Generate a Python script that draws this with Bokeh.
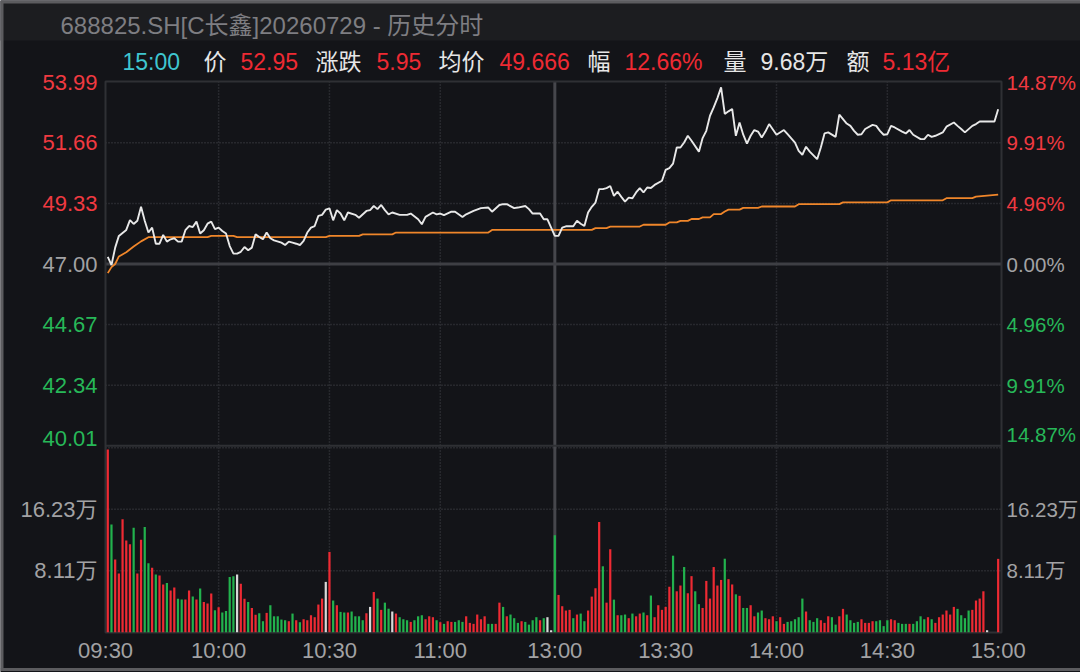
from bokeh.plotting import figure
from bokeh.models import Range1d, ColumnDataSource
from bokeh.core.properties import value
from bokeh.embed import file_html
from bokeh.resources import INLINE

# ---------------- data ----------------
TITLE = "688825.SH[C长鑫]20260729 - 历史分时"
PREV_CLOSE = 47.00
LAST_TIME = "15:00"
LAST_PRICE = 52.95
AVG_PRICE = 49.666
LAST_VOL_TXT = "9.68万"
AMOUNT_TXT = "5.13亿"

PRICE_TICKS = [53.99, 51.66, 49.33, 47.00, 44.67, 42.34, 40.01]
VOL_TICKS = [8.11, 16.23, 24.34]
TIME_TICKS = [-0.6, 30, 60, 90, 121, 151, 181, 211, 241]
TIME_LABELS = ["09:30", "10:00", "10:30", "11:00", "13:00", "13:30", "14:00", "14:30", "15:00"]

# minute slots (0 = 09:30 ... 120 = 11:30, 121 = 13:00 ... 241 = 15:00)
PRICE_SLOT = [0, 1, 2, 3, 5, 6, 7, 8, 9, 10, 11, 12, 13, 14, 15, 16, 17, 18, 19, 20,
              21, 22, 23, 24, 25, 26, 27, 28, 29, 30, 31, 32, 33, 34, 35, 36, 37, 38, 39, 40,
              41, 42, 43, 44, 45, 47, 48, 49, 50, 51, 52, 53, 54, 55, 56, 57, 58, 59, 60, 61,
              62, 63, 64, 65, 67, 68, 70, 71, 72, 73, 74, 75, 76, 77, 79, 81, 82, 84, 85, 86,
              88, 89, 90, 91, 93, 94, 96, 97, 99, 101, 103, 104, 106, 107, 108, 110, 111, 113, 114, 115,
              117, 118, 119, 120,
              121, 122, 123, 124, 126, 127, 128, 129, 130, 131, 132, 133, 134, 135, 136, 137, 138, 139, 140, 141,
              142, 143, 144, 145, 146, 147, 148, 150, 151, 152, 153, 154, 155, 156, 157, 158, 160, 161, 162, 163,
              164, 165, 166, 167, 168, 169, 170, 171, 172, 173, 174, 175, 176, 177, 178, 179, 181, 183, 184, 186,
              187, 188, 189, 190, 192, 193, 194, 195, 197, 198, 200, 201, 202, 203, 204, 205, 207, 208, 209, 210,
              211, 212, 213, 215, 216, 217, 218, 220, 221, 222, 223, 224, 226, 227, 229, 230, 231, 232, 234, 235,
              236, 238, 240, 241]
PRICE = [47.27, 46.96, 47.63, 48.08, 48.31, 48.69, 48.54, 48.66, 49.20, 48.66, 48.21, 48.40, 47.78, 47.78, 48.12, 47.86, 47.95, 47.99, 47.86, 47.86,
         48.30, 48.46, 48.42, 48.63, 48.17, 48.30, 48.55, 48.63, 48.34, 48.40, 48.27, 48.17, 47.69, 47.40, 47.40, 47.47, 47.65, 47.53, 47.63, 48.14,
         48.04, 47.95, 48.21, 47.99, 47.91, 47.82, 47.73, 47.86, 47.82, 47.78, 47.73, 47.89, 48.21, 48.40, 48.46, 48.85, 48.89, 49.09, 49.14, 48.68,
         49.07, 48.94, 48.68, 48.98, 48.89, 48.78, 49.04, 49.07, 49.23, 49.11, 49.27, 49.07, 48.91, 48.98, 48.89, 48.89, 48.94, 48.72, 48.53, 48.81,
         48.98, 48.91, 48.94, 48.88, 49.01, 49.01, 48.81, 48.91, 49.04, 49.15, 49.17, 49.01, 49.27, 49.30, 49.30, 49.15, 49.17, 49.23, 49.11, 48.94,
         48.94, 48.72, 48.72, 48.40,
         48.08, 48.08, 48.40, 48.45, 48.45, 48.66, 48.55, 48.46, 48.98, 49.20, 49.36, 49.88, 49.88, 49.92, 50.00, 49.62, 49.78, 49.58, 49.40, 49.55,
         49.53, 49.75, 49.92, 49.75, 49.94, 49.92, 50.04, 50.20, 50.62, 50.69, 50.86, 51.48, 51.48, 51.67, 51.93, 51.74, 51.32, 51.84, 52.12, 52.70,
         53.02, 53.38, 53.79, 52.77, 52.87, 52.96, 51.93, 52.44, 51.97, 51.63, 51.93, 52.15, 52.09, 51.86, 52.09, 52.38, 51.97, 52.15, 51.99, 51.67,
         51.35, 51.20, 51.51, 51.32, 51.03, 51.48, 52.02, 52.06, 51.89, 52.74, 52.40, 52.31, 52.12, 51.97, 51.99, 52.19, 52.35, 52.31, 52.12, 51.97,
         51.99, 52.31, 52.25, 52.09, 52.02, 52.15, 51.97, 51.80, 51.80, 51.97, 51.89, 51.93, 52.06, 52.28, 52.44, 52.31, 52.19, 52.06, 52.31, 52.38,
         52.48, 52.48, 52.48, 52.95]

AVG_SLOT = [0, 1, 2, 3, 5, 7, 9, 11, 27, 28, 34, 35, 59, 60, 68, 69, 77, 78, 103, 104,
            131, 132, 135, 136, 144, 145, 151, 152, 154, 155, 157, 158, 160, 161, 163, 164, 166, 167, 168, 171,
            172, 176, 177, 186, 187, 198, 199, 211, 212, 226, 227, 234, 235, 241]
AVG = [46.65, 46.88, 47.00, 47.29, 47.45, 47.67, 47.87, 48.03, 48.03, 48.08, 48.08, 48.03, 48.03, 48.08, 48.08, 48.14, 48.14, 48.21, 48.21, 48.31,
       48.31, 48.38, 48.38, 48.44, 48.44, 48.51, 48.51, 48.60, 48.60, 48.66, 48.66, 48.73, 48.73, 48.79, 48.79, 48.92, 48.92, 49.02, 49.09, 49.09,
       49.16, 49.16, 49.21, 49.21, 49.30, 49.30, 49.37, 49.37, 49.45, 49.45, 49.53, 49.53, 49.59, 49.67]

# volume per minute slot, in 万 shares
VOL = [24.1, 14.2, 9.6, 7.74, 14.9, 12.1, 11.6, 13.8, 7.74, 12.2,
       13.9, 9.1, 8.5, 7.6, 7.5, 6.3, 6.5, 5.5, 5.9, 4.4,
       4.3, 4.3, 5.5, 4.7, 4.3, 5.76, 4.0, 3.8, 5.1, 2.9,
       3.3, 2.6, 2.8, 7.3, 7.4, 7.6, 6.4, 4.4, 4.0, 3.2,
       2.3, 2.5, 1.45, 2.55, 3.56, 2.1, 2.1, 1.67, 1.58, 1.45,
       2.46, 1.58, 1.32, 1.71, 1.58, 2.24, 1.98, 3.65, 4.44, 6.64,
       10.6, 4.18, 3.56, 2.68, 2.6, 2.6, 2.73, 2.1, 2.1, 1.58,
       2.5, 3.34, 5.3, 4.44, 2.95, 3.9, 3.1, 2.73, 2.46, 1.98,
       1.71, 1.58, 1.36, 1.58, 2.1, 2.24, 1.71, 2.1, 1.98, 1.58,
       1.32, 1.1, 1.45, 1.36, 1.36, 1.58, 1.36, 2.1, 1.23, 1.1,
       2.33, 1.71, 2.1, 1.1, 1.1, 1.1, 3.9, 3.34, 2.1, 2.33,
       1.85, 1.23, 1.45, 1.36, 1.0, 1.58, 1.98, 1.58, 1.85, 1.98,
       0.26, 12.8, 4.92, 3.43, 2.86, 2.95, 1.85, 2.33, 2.46, 1.45,
       2.86, 4.7, 5.8, 14.55, 8.7, 3.9, 10.95, 4.3, 2.24, 2.24,
       2.33, 1.85, 2.46, 2.1, 2.46, 2.6, 2.24, 4.84, 1.98, 3.56,
       2.95, 3.34, 6.0, 10.1, 5.4, 6.16, 8.6, 5.14, 7.4, 5.4,
       3.7, 3.2, 6.77, 4.44, 8.6, 6.16, 6.9, 9.7, 7.0, 6.3,
       5.0, 4.8, 3.2, 3.2, 3.56, 2.1, 2.6, 2.86, 1.85, 1.71,
       2.1, 1.45, 1.98, 1.1, 1.36, 1.45, 1.71, 1.98, 4.44, 2.73,
       1.58, 1.36, 1.85, 1.58, 1.23, 2.1, 1.98, 1.0, 2.1, 3.08,
       2.33, 1.58, 1.23, 1.36, 1.71, 1.23, 1.23, 1.45, 1.45, 1.58,
       0.8, 1.58, 1.71, 1.58, 1.23, 1.1, 1.1, 1.1, 1.1, 1.45,
       2.1, 1.71, 1.98, 1.71, 1.23, 1.98, 2.33, 2.86, 2.33, 3.34,
       3.08, 2.24, 1.85, 2.86, 2.95, 4.18, 4.44, 5.4, 0.26, 0,
       0, 9.68]
# r = up, g = down, w = unchanged, n = no trade
VOL_DIR = list("rgrrrrrgrr" "ggrgrrgrrg" "grrgrgrrrg" "rggggwrrgr"
               "rggrgggggr" "grgrrrrrrw" "rgrggrgggg" "rwrgrggwrg"
               "ggrgggrrrg" "rgrrgggrrr" "rrrggrrgrg" "ggrggggrgw"
               "wgrrrrgrgg" "rrrrgrrgrg" "grgrrgrgrr" "rrrgrrgrrg"
               "grrrrrrgrr" "grggrrggrr" "rgrrgggggr" "gggrrrggrr"
               "ggggrrrrgg" "ggrrgggrgg" "ggrgrrrrrr" "ggggrrrrwn"
               "nr")

assert len(PRICE_SLOT) == len(PRICE)
assert len(AVG_SLOT) == len(AVG)
assert len(VOL) == len(VOL_DIR) == 242

# ---------------- layout / style ----------------
W, H = 1080, 672
FRAME_L, FRAME_R, FRAME_T, FRAME_B = 105, 1001, 81, 632
SLOT_L, SLOT_R = -0.62, 241.9                 # slots at the panel's left / right edge
PRICE_Y = (53.99, 81.7, 40.01, 445.3)          # value, pixel-row pairs of the price panel
VOL_Y = (24.34, 447.3, 0.0, 631.7)             # value, pixel-row pairs of the volume panel

FONT = "Liberation Sans, Noto Sans CJK SC"
BG = "#131418"
HEAD_BG = "#1c1d20"
EDGE = "#5c5c5f"
FRAME = "#2f3034"
GRID = "#3c3d42"
RED = "#ee2a33"
GREEN = "#22b24d"
WBAR = "#d8d8d8"
LBL_RED = "#f03a41"
LBL_GREEN = "#27b858"
LBL_GRAY = "#a2a2a4"
DIR_COLOR = {"r": RED, "g": GREEN, "w": WBAR}


def span_x(v0, p0, v1, p1):
    k = (v1 - v0) / (p1 - p0)
    return v0 + (0 - p0) * k, v0 + (W - p0) * k


def span_y(v0, p0, v1, p1):
    k = (v1 - v0) / (p1 - p0)
    return v0 + (H - p0) * k, v0 + (0 - p0) * k   # (bottom, top)


xs, xe = span_x(SLOT_L, FRAME_L, SLOT_R, FRAME_R)
ps, pe = span_y(*PRICE_Y)
vs, ve = span_y(*VOL_Y)

p = figure(width=W, height=H, x_range=Range1d(xs, xe), y_range=Range1d(ps, pe),
           x_axis_type=None, y_axis_type=None, toolbar_location=None,
           output_backend="svg", min_border=0, outline_line_color=None,
           background_fill_color=BG, border_fill_color=BG)
p.extra_x_ranges = {"px": Range1d(0, W)}
p.extra_y_ranges = {"vol": Range1d(vs, ve), "px": Range1d(H, 0)}

PX = dict(x_range_name="px", y_range_name="px")

# header band and window edges
p.quad(left=0, right=W, top=0, bottom=40, fill_color=HEAD_BG, line_color=None, **PX)
p.segment(x0=[1.5, 0, 0], y0=[0, 1.5, H - 3], x1=[1.5, W, W], y1=[H - 3, 1.5, H - 3],
          line_color=EDGE, line_width=3, **PX)

# grid lines
top_tick, bottom_tick = max(PRICE_TICKS), min(PRICE_TICKS)
dotted_p = [t for t in PRICE_TICKS if t not in (PREV_CLOSE, top_tick, bottom_tick)]
p.segment(x0=[SLOT_L] * len(dotted_p), x1=[SLOT_R] * len(dotted_p), y0=dotted_p, y1=dotted_p,
          line_color=GRID, line_width=1.5, line_dash="1 2")
p.segment(x0=[SLOT_L] * len(VOL_TICKS), x1=[SLOT_R] * len(VOL_TICKS), y0=VOL_TICKS, y1=VOL_TICKS,
          line_color=GRID, line_width=1.5, line_dash="1 2", y_range_name="vol")
vt = [t for t, lab in zip(TIME_TICKS[1:-1], TIME_LABELS[1:-1]) if lab != "13:00"]
p.segment(x0=vt, x1=vt, y0=[FRAME_T] * len(vt), y1=[FRAME_B] * len(vt),
          line_color=GRID, line_width=1.5, line_dash="1 2", y_range_name="px")
noon = TIME_TICKS[TIME_LABELS.index("13:00")]
p.segment(x0=[noon], x1=[noon], y0=[FRAME_T], y1=[FRAME_B], line_color="#46474c",
          line_width=3, y_range_name="px")
p.segment(x0=[SLOT_L], x1=[SLOT_R], y0=[PREV_CLOSE], y1=[PREV_CLOSE], line_color="#3e3f44", line_width=3)
p.segment(x0=[SLOT_L], x1=[SLOT_R], y0=[bottom_tick], y1=[bottom_tick], line_color=FRAME, line_width=2)
p.quad(left=FRAME_L, right=FRAME_R, top=FRAME_T, bottom=FRAME_B, fill_color=None,
       line_color=FRAME, line_width=2, **PX)

# volume bars
bars = [(i, v, DIR_COLOR[d]) for i, (v, d) in enumerate(zip(VOL, VOL_DIR)) if d != "n"]
vsrc = ColumnDataSource(dict(x=[b[0] for b in bars], top=[b[1] for b in bars],
                             color=[b[2] for b in bars]))
p.vbar(x="x", top="top", bottom=0, width=0.6, fill_color="color", line_color=None,
       source=vsrc, y_range_name="vol")

# average and price lines
p.line(AVG_SLOT, AVG, line_color="#f0862a", line_width=1.8)
p.line(PRICE_SLOT, PRICE, line_color="#e8e8e8", line_width=1.9)


# ---------------- texts ----------------
def pcolor(t):
    return LBL_RED if t > PREV_CLOSE else (LBL_GREEN if t < PREV_CLOSE else LBL_GRAY)


n = len(PRICE_TICKS)
psrc = ColumnDataSource(dict(
    lx=[FRAME_L - 8] * n, rx=[FRAME_R + 5] * n, y=PRICE_TICKS,
    ltxt=[f"{t:.2f}" for t in PRICE_TICKS],
    rtxt=[f"{abs(t - PREV_CLOSE) / PREV_CLOSE * 100:.2f}%" for t in PRICE_TICKS],
    color=[pcolor(t) for t in PRICE_TICKS],
    base=["bottom" if t == bottom_tick else "middle" for t in PRICE_TICKS]))
p.text(x="lx", y="y", text="ltxt", source=psrc, x_range_name="px",
       text_align="right", text_baseline="base", text_color="color",
       text_font=value(FONT), text_font_size="22px")
p.text(x="rx", y="y", text="rtxt", source=psrc, x_range_name="px",
       text_align="left", text_baseline="base", text_color="color",
       text_font=value(FONT), text_font_size="20.5px")

vl = VOL_TICKS[:2]
vlsrc = ColumnDataSource(dict(lx=[FRAME_L - 8] * len(vl), rx=[FRAME_R + 5] * len(vl), y=vl,
                              txt=[f"{v:.2f}万" for v in vl]))
p.text(x="lx", y="y", text="txt", source=vlsrc, x_range_name="px", y_range_name="vol",
       text_align="right", text_baseline="middle", text_color=LBL_GRAY,
       text_font=value(FONT), text_font_size="22px")
p.text(x="rx", y="y", text="txt", source=vlsrc, x_range_name="px", y_range_name="vol",
       text_align="left", text_baseline="middle", text_color=LBL_GRAY,
       text_font=value(FONT), text_font_size="20.5px")

tsrc = ColumnDataSource(dict(x=TIME_TICKS, y=[650] * len(TIME_TICKS), txt=TIME_LABELS))
p.text(x="x", y="y", text="txt", source=tsrc, y_range_name="px",
       text_align="center", text_baseline="middle", text_color=LBL_GRAY,
       text_font=value(FONT), text_font_size="22px")

# title
p.text(x=[60], y=[25], text=[TITLE], text_align="left", text_baseline="middle",
       text_color="#7e7e82", text_font=value(FONT), text_font_size="24px", **PX)

# info row
chg = LAST_PRICE - PREV_CLOSE
WHITE_T = "#e6e6e6"
info = [
    (LAST_TIME, 122, "#3fc6d0"),
    ("价", 203, WHITE_T),
    (f"{LAST_PRICE:.2f}", 240, RED),
    ("涨跌", 315, WHITE_T),
    (f"{chg:.2f}", 376, RED),
    ("均价", 438, WHITE_T),
    (f"{AVG_PRICE:.3f}", 499, RED),
    ("幅", 587, WHITE_T),
    (f"{chg / PREV_CLOSE * 100:.2f}%", 624, RED),
    ("量", 723, WHITE_T),
    (LAST_VOL_TXT, 760, WHITE_T),
    ("额", 846, WHITE_T),
    (AMOUNT_TXT, 882, RED),
]
isrc = ColumnDataSource(dict(x=[i[1] for i in info], y=[61] * len(info),
                             txt=[i[0] for i in info], color=[i[2] for i in info]))
p.text(x="x", y="y", text="txt", source=isrc, text_align="left", text_baseline="middle",
       text_color="color", text_font=value(FONT), text_font_size="23px", **PX)

open("out.html", "w").write(file_html(p, INLINE))
